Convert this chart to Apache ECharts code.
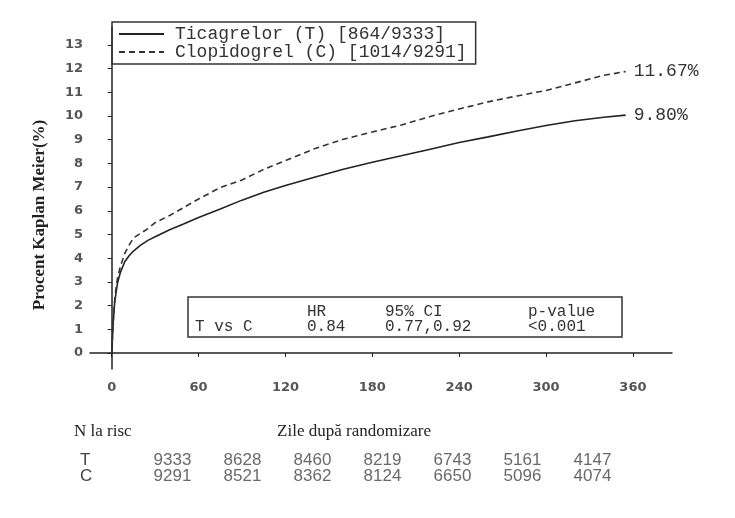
<!DOCTYPE html>
<html>
<head>
<meta charset="utf-8">
<script src="https://cdn.jsdelivr.net/npm/echarts@6/dist/echarts.min.js"></script>
<style>html,body{margin:0;padding:0;background:#fff}#c{width:735px;height:518px}</style>
</head>
<body>
<div id="c"></div>
<script>
const days = [0,1,2,3,4,6,9,12,15,20,25,30,40,50,60,75,90,105,120,140,160,180,200,220,240,260,280,300,320,340,355];
const ticagrelor = [0,1.25,2.1,2.55,2.95,3.4,3.85,4.1,4.3,4.55,4.75,4.9,5.2,5.45,5.72,6.08,6.45,6.78,7.07,7.42,7.75,8.05,8.32,8.6,8.88,9.12,9.37,9.6,9.8,9.95,10.04];
const clopidogrel = [0,1.3,2.2,2.75,3.15,3.65,4.2,4.55,4.85,5.05,5.25,5.5,5.8,6.15,6.5,6.98,7.3,7.75,8.12,8.62,9.02,9.33,9.62,9.98,10.3,10.6,10.85,11.08,11.4,11.72,11.88];
const xTicks = [0,60,120,180,240,300,360];
const yTicks = [0,1,2,3,4,5,6,7,8,9,10,11,12,13];
const riskDays = [0,60,120,180,240,300,360];
const riskT = [9333,8628,8460,8219,6743,5161,4147];
const riskC = [9291,8521,8362,8124,6650,5096,4074];
const riskRows = ['T','C'];
const legendNames = ['Ticagrelor (T) [864/9333]','Clopidogrel (C) [1014/9291]'];
const endLabels = ['9.80%','11.67%'];
const statsHeader = ['HR','95% CI','p-value'];
const statsRow = ['T vs C','0.84','0.77,0.92','<0.001'];
const yTitle = 'Procent Kaplan Meier(%)';
const xTitle = 'Zile după randomizare';
const riskTitle = 'N la risc';

const mono = '"Liberation Mono", "DejaVu Sans Mono", monospace';
const serif = '"Liberation Serif", "DejaVu Serif", serif';
const tickFont = '"DejaVu Sans", sans-serif';
const narrow = '"Liberation Sans Narrow", "Liberation Sans", sans-serif';

const chart = echarts.init(document.getElementById('c'), null, {renderer:'canvas'});

const riskData = [];
riskDays.forEach((d,i)=>{ riskData.push([d,'T',riskT[i]]); riskData.push([d,'C',riskC[i]]); });

chart.setOption({
  backgroundColor:'#fff',
  animation:false,
  grid:[
    {left:90, right:63, top:27, bottom:149},
    {left:172.5, right:142.5, top:452, height:32}
  ],
  legend:{
    orient:'vertical', left:112, top:22,
    data:legendNames,
    itemWidth:45, itemHeight:14, itemGap:0,
    padding:[3,9,3,6],
    borderColor:'#333', borderWidth:1.5,
    itemStyle:{color:'rgba(0,0,0,0)', borderWidth:0},
    textStyle:{fontFamily:mono, fontSize:18, color:'#333', padding:[0,0,0,6], lineHeight:17},
    selectedMode:false
  },
  xAxis:[
    {gridIndex:0, type:'value', min:-15, max:387,
     axisLine:{lineStyle:{color:'#222', width:1.5}},
     axisTick:{show:true, length:4, customValues:xTicks, lineStyle:{color:'#222'}},
     axisLabel:{customValues:xTicks, margin:12, fontFamily:tickFont, fontWeight:'bold', fontSize:13, color:'#555'},
     splitLine:{show:false}},
    {gridIndex:1, type:'value', min:0, max:360, show:false}
  ],
  yAxis:[
    {gridIndex:0, type:'value', min:-0.68, max:13.76,
     axisLine:{show:true, lineStyle:{color:'#222', width:1.5}},
     axisTick:{show:true, length:4, customValues:yTicks, lineStyle:{color:'#222'}},
     axisLabel:{customValues:yTicks, margin:7, fontFamily:tickFont, fontWeight:'bold', fontSize:13, color:'#555'},
     splitLine:{show:false}},
    {gridIndex:1, type:'category', data:riskRows, inverse:true,
     axisLine:{show:false}, axisTick:{show:false},
     axisLabel:{interval:0, align:'left', margin:92.5, fontFamily:narrow, fontSize:17, color:'#444'}}
  ],
  series:[
    {type:'line', name:legendNames[0], xAxisIndex:0, yAxisIndex:0,
     data:days.map((d,i)=>[d,ticagrelor[i]]), symbol:'none',
     lineStyle:{color:'#222', width:1.6}, itemStyle:{color:'#222'},
     endLabel:{show:true, formatter:endLabels[0], distance:8, fontFamily:mono, fontSize:18, color:'#333'}},
    {type:'line', name:legendNames[1], xAxisIndex:0, yAxisIndex:0,
     data:days.map((d,i)=>[d,clopidogrel[i]]), symbol:'none',
     lineStyle:{color:'#333', width:1.6, type:[6,4]}, itemStyle:{color:'#333'},
     endLabel:{show:true, formatter:endLabels[1], distance:8, fontFamily:mono, fontSize:18, color:'#333'}},
    {type:'scatter', xAxisIndex:1, yAxisIndex:1, data:riskData, symbolSize:0,
     label:{show:true, position:'inside', formatter:p=>String(p.value[2]), fontFamily:narrow, fontSize:17, color:'#444'},
     silent:true}
  ],
  graphic:[
    {type:'text', x:40, y:215, rotation:Math.PI/2,
     style:{text:yTitle, fontFamily:serif, fontWeight:'bold', fontSize:17, fill:'#222', align:'center', verticalAlign:'middle'}},
    {type:'text', x:74, y:432,
     style:{text:riskTitle, fontFamily:serif, fontSize:17, fill:'#222', align:'left', verticalAlign:'middle'}},
    {type:'text', x:354, y:432,
     style:{text:xTitle, fontFamily:serif, fontSize:17, fill:'#222', align:'center', verticalAlign:'middle'}},
    {type:'rect', shape:{x:188, y:297, width:434, height:40},
     style:{fill:'#fff', stroke:'#333', lineWidth:1.5}},
    {type:'text', x:307, y:312, style:{text:statsHeader[0], fontFamily:mono, fontSize:16, fill:'#333', verticalAlign:'middle'}},
    {type:'text', x:385, y:312, style:{text:statsHeader[1], fontFamily:mono, fontSize:16, fill:'#333', verticalAlign:'middle'}},
    {type:'text', x:528, y:312, style:{text:statsHeader[2], fontFamily:mono, fontSize:16, fill:'#333', verticalAlign:'middle'}},
    {type:'text', x:195, y:327, style:{text:statsRow[0], fontFamily:mono, fontSize:16, fill:'#333', verticalAlign:'middle'}},
    {type:'text', x:307, y:327, style:{text:statsRow[1], fontFamily:mono, fontSize:16, fill:'#333', verticalAlign:'middle'}},
    {type:'text', x:385, y:327, style:{text:statsRow[2], fontFamily:mono, fontSize:16, fill:'#333', verticalAlign:'middle'}},
    {type:'text', x:528, y:327, style:{text:statsRow[3], fontFamily:mono, fontSize:16, fill:'#333', verticalAlign:'middle'}}
  ]
});
</script>
</body>
</html>
